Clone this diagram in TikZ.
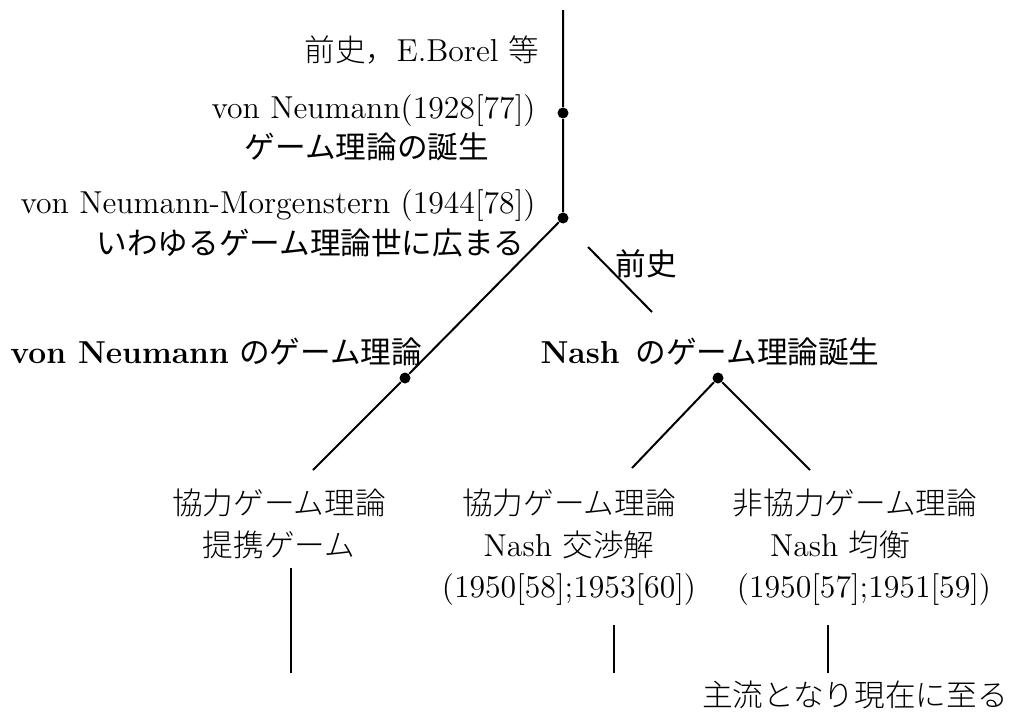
\documentclass[tikz,border=0pt]{standalone}
\usepackage{fontspec}
\newfontfamily\jp[Scale=0.965]{Noto Sans CJK JP}
\newfontfamily\jpl[Scale=0.965]{Noto Sans CJK JP Light}
\begin{document}
\begin{tikzpicture}[x=0.4pt,y=-0.4pt,
  every node/.style={inner sep=0pt,font=\fontsize{12.7}{15}\selectfont},
  ln/.style={line width=0.8pt},
  dot/.style={circle,fill=black,minimum size=4.4pt,inner sep=0pt},
  lbl/.style={anchor=base east},
  ctr/.style={anchor=base}]
\useasboundingbox (0,0) rectangle (1011,713);
% junction points
\node[dot] (d1) at (563,113) {};
\node[dot] (d2) at (563,218) {};
\node[dot] (d3) at (405,378) {};
\node[dot] (d4) at (718,378) {};
\coordinate (top) at (563,10);
\coordinate (l1) at (313,470);
\coordinate (p1) at (588,247);
\coordinate (p2) at (652,312);
\coordinate (b1) at (632,468);
\coordinate (b2) at (810,470);
\coordinate (v1a) at (291,568); \coordinate (v1b) at (291,673);
\coordinate (v2a) at (614,625); \coordinate (v2b) at (614,673);
\coordinate (v3a) at (828,625); \coordinate (v3b) at (828,673);
% connectors
\draw[ln] (top) -- (d1) -- (d2) -- (d3) -- (l1);
\draw[ln] (p1) -- (p2);
\draw[ln] (b1) -- (d4) -- (b2);
\draw[ln] (v1a) -- (v1b);
\draw[ln] (v2a) -- (v2b);
\draw[ln] (v3a) -- (v3b);
% labels
\node[lbl] (t1) at (540,61) {{\jpl 前史，}E.Borel {\jpl 等}};
\node[lbl] (t2) at (536,118) {von Neumann(1928[77])};
\node[ctr] (t3) at (367,158) {\jp ゲーム理論の誕生};
\node[lbl] (t4) at (536,213) {von Neumann-Morgenstern (1944[78])};
\node[lbl] (t5) at (525,254) {\jp いわゆるゲーム理論世に広まる};
\node[ctr] (t6) at (646,275) {\jp 前史};
\node[anchor=base west] (t7) at (10,363) {\textbf{von Neumann} {\jp のゲーム理論}};
\node[anchor=base west] (t8) at (540,363) {\textbf{Nash}\, {\jp のゲーム理論誕生}};
\node[ctr] (a1) at (279,514) {\jpl 協力ゲーム理論};
\node[ctr] (a2) at (279,556) {\jpl 提携ゲーム};
\node[ctr] (b1t) at (569,514) {\jpl 協力ゲーム理論};
\node[ctr] (b2t) at (569,556) {Nash {\jpl 交渉解}};
\node[ctr] (b3t) at (569,597) {(1950[58];1953[60])};
\node[ctr] (c1t) at (855,514) {\jpl 非協力ゲーム理論};
\node[ctr] (c2t) at (840,556) {Nash {\jpl 均衡}};
\node[ctr] (c3t) at (864,597) {(1950[57];1951[59])};
\node[ctr] (c4t) at (855,706) {\jpl 主流となり現在に至る};
\end{tikzpicture}
\end{document}
